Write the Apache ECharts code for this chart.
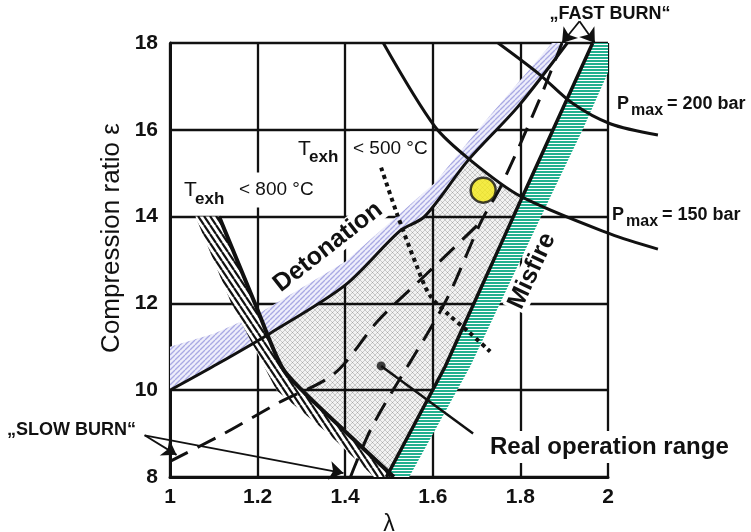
<!DOCTYPE html>
<html>
<head>
<meta charset="utf-8">
<script src="https://cdn.jsdelivr.net/npm/echarts@6.0.0/dist/echarts.min.js"></script>
<style>
html,body{margin:0;padding:0;background:#ffffff;}
#chart{width:751px;height:532px;}
</style>
</head>
<body>
<div id="chart"></div>
<script>
// ---------- data (lambda, compression ratio) ----------
const xTicks = [1, 1.2, 1.4, 1.6, 1.8, 2];
const xTickLabels = ['1', '1.2', '1.4', '1.6', '1.8', '2'];
const yTicks = [8, 10, 12, 14, 16, 18];
const yTickLabels = ['8', '10', '12', '14', '16', '18'];

const detonationLine = [[1.0,10.0],[1.097,10.54],[1.23,11.32],[1.4,12.42],[1.525,13.67],[1.581,14.0],[1.68,15.29],[1.795,16.54],[1.907,18.0]];
const detonationBandTop = [[1.0,11.0],[1.1,11.3],[1.2,11.75],[1.4,12.96],[1.605,14.78],[1.703,16.0],[1.872,18.0]];
const misfireLine = [[1.494,8.0],[1.628,10.54],[1.784,14.0],[1.965,18.0]];
const misfireBandEdge = [[1.546,8.0],[1.685,10.54],[1.865,14.38],[1.942,16.0],[2.03,18.0]];
const texh800Line = [[1.112,14.0],[1.194,12.0],[1.255,10.54],[1.301,10.0],[1.4,9.05],[1.511,8.0]];
const texh800BandEdge = [[1.058,14.0],[1.14,12.0],[1.243,10.0],[1.361,9.0],[1.466,8.0]];
const texh500Line = [[1.482,15.13],[1.518,14.07],[1.565,12.82],[1.593,12.19],[1.634,11.76],[1.68,11.36],[1.731,10.89]];
const pmax150Line = [[1.487,18.0],[1.605,16.07],[1.687,15.29],[1.8,14.47],[2.005,13.6],[2.114,13.25]];
const pmax200Line = [[1.749,18.0],[1.842,17.29],[1.919,16.61],[2.005,16.14],[2.114,15.88]];
const slowBurnDetonation = [[1.0,8.36],[1.123,9.0],[1.246,9.7],[1.375,10.38],[1.475,11.6],[1.584,12.66],[1.71,13.88]];
const slowBurnMisfire = [[1.412,8.0],[1.464,9.21],[1.628,12.02],[1.71,13.88],[1.756,14.71],[1.842,16.66],[1.895,18.0]];
const realRange = [[1.223,11.27],[1.4,12.42],[1.525,13.67],[1.581,14.0],[1.68,15.29],[1.8,14.47],[1.784,14.0],[1.628,10.54],[1.499,8.1],[1.4,9.05],[1.301,10.0],[1.255,10.54]];
const designPoint = [[1.715,14.61]];
const rangeMarker = [[1.482,10.56]];
const rangePointer = [[1.482,10.56],[1.692,9.0]];
const fastBurnArrows = [[[1.935,18.5],[1.895,18.0]],[[1.935,18.5],[1.97,18.0]]];
const slowBurnArrows = [[[0.942,8.96],[1.015,8.51]],[[0.942,8.96],[1.396,8.09]]];

// ---------- patterns ----------
function makePattern(w, h, draw) {
  const c = document.createElement('canvas');
  c.width = w; c.height = h;
  const g = c.getContext('2d');
  draw(g, w, h);
  return { image: c, repeat: 'repeat' };
}
const lavPat = makePattern(5, 5, (g, w, h) => {
  g.fillStyle = '#eeeefb'; g.fillRect(0, 0, w, h);
  g.strokeStyle = '#a9a9e3'; g.lineWidth = 1.3;
  for (const dx of [-w, 0, w]) { g.beginPath(); g.moveTo(dx, h); g.lineTo(dx + w, 0); g.stroke(); }
});
const tealPat = makePattern(4, 3, (g, w, h) => {
  g.fillStyle = '#ffffff'; g.fillRect(0, 0, w, h);
  g.fillStyle = '#22b08f'; g.fillRect(0, 0, w, 2);
});
const hatchPat = makePattern(6, 9, (g, w, h) => {
  g.fillStyle = '#ffffff'; g.fillRect(0, 0, w, h);
  g.strokeStyle = '#111111'; g.lineWidth = 2.2;
  for (const dx of [-w, 0, w]) { g.beginPath(); g.moveTo(dx, 0); g.lineTo(dx + w, h); g.stroke(); }
});
const crossPat = makePattern(5, 5, (g, w, h) => {
  g.fillStyle = 'rgba(0,0,0,0.05)'; g.fillRect(0, 0, w, h);
  g.strokeStyle = 'rgba(0,0,0,0.22)'; g.lineWidth = 0.8;
  for (const dx of [-w, 0, w]) {
    g.beginPath(); g.moveTo(dx, 0); g.lineTo(dx + w, h); g.stroke();
    g.beginPath(); g.moveTo(dx, h); g.lineTo(dx + w, 0); g.stroke();
  }
});

const polys = [
  { pts: realRange, fill: crossPat },
  { pts: detonationLine.concat(detonationBandTop.slice().reverse()), fill: lavPat },
  { pts: misfireLine.concat(misfireBandEdge.slice().reverse()), fill: tealPat },
  { pts: texh800Line.concat(texh800BandEdge.slice().reverse()), fill: hatchPat }
];

const FONT = '"Liberation Sans", Arial, sans-serif';
const INK = '#111111';

function lineSeries(data, width, extra) {
  return Object.assign({
    type: 'line', data: data, symbol: 'none', smooth: 0.3, clip: true,
    lineStyle: { color: INK, width: width, cap: 'butt' }, silent: true, z: 3
  }, extra || {});
}

// curve drawn through the cartesian coordinate system, allowed to run past the plot edge
function freeCurve(data, width) {
  return {
    type: 'custom', clip: false, silent: true, z: 4,
    data: [[data[0][0], data[0][1]]],
    renderItem: (params, api) => ({
      type: 'polyline',
      shape: { points: data.map(d => api.coord(d)), smooth: 0.3 },
      style: { stroke: INK, lineWidth: width, fill: null }
    })
  };
}

function txt(x, y, text, font, opts) {
  opts = opts || {};
  return {
    type: 'text', x: x, y: y, rotation: (opts.rot || 0) * Math.PI / 180, z: 100,
    style: Object.assign({
      text: text, font: font, fill: INK,
      align: opts.align || 'left', verticalAlign: 'middle'
    }, opts.bg ? { backgroundColor: '#ffffff', padding: opts.pad || [2, 3, 2, 3] } : {})
  };
}

const option = {
  animation: false,
  backgroundColor: '#ffffff',
  grid: { left: 170, right: 143, top: 43, bottom: 55, containLabel: false, outerBoundsMode: 'none' },
  xAxis: {
    type: 'value', min: 1, max: 2, interval: 0.2,
    name: 'λ', nameLocation: 'middle', nameGap: 30,
    nameTextStyle: { fontSize: 23, fontFamily: FONT, color: INK },
    axisLine: { show: true, lineStyle: { color: INK, width: 3 } },
    axisTick: { show: false },
    axisLabel: {
      margin: 10, fontSize: 21, fontWeight: 'bold', fontFamily: FONT, color: INK,
      formatter: v => { const i = xTicks.findIndex(t => Math.abs(t - v) < 1e-6); return i >= 0 ? xTickLabels[i] : ''; }
    },
    splitLine: { show: true, lineStyle: { color: INK, width: 2.3 } }
  },
  yAxis: {
    type: 'value', min: 8, max: 18, interval: 2,
    axisLine: { show: true, lineStyle: { color: INK, width: 3 } },
    axisTick: { show: false },
    axisLabel: {
      margin: 12, fontSize: 21, fontWeight: 'bold', fontFamily: FONT, color: INK,
      formatter: v => { const i = yTicks.findIndex(t => Math.abs(t - v) < 1e-6); return i >= 0 ? yTickLabels[i] : ''; }
    },
    splitLine: { show: true, lineStyle: { color: INK, width: 2.3 } }
  },
  series: [
    {
      type: 'custom', clip: true, silent: true, z: 2,
      data: polys.map((p, i) => [i]),
      encode: { x: 0 },
      renderItem: (params, api) => {
        const p = polys[params.dataIndex];
        return { type: 'polygon', shape: { points: p.pts.map(d => api.coord(d)) }, style: { fill: p.fill, stroke: null } };
      }
    },
    lineSeries(detonationLine, 3),
    lineSeries(misfireLine, 3.5, { smooth: false }),
    lineSeries(texh800Line, 4),
    lineSeries(texh500Line, 4, { lineStyle: { color: INK, width: 4, type: [4, 4], cap: 'butt' } }),
    lineSeries(slowBurnDetonation, 3, { lineStyle: { color: INK, width: 3, type: [20, 11], cap: 'butt' } }),
    lineSeries(slowBurnMisfire, 3, { lineStyle: { color: INK, width: 3, type: [20, 11], cap: 'butt' } }),
    freeCurve(pmax150Line, 3),
    freeCurve(pmax200Line, 3),
    lineSeries(rangePointer, 2.5, { smooth: false }),
    { type: 'scatter', data: rangeMarker, symbolSize: 9, itemStyle: { color: INK }, silent: true, z: 5 },
    { type: 'scatter', data: designPoint, symbolSize: 25, itemStyle: { color: '#f4e918', borderColor: INK, borderWidth: 2.5 }, silent: true, z: 5 },
    {
      type: 'lines', coordinateSystem: 'cartesian2d', clip: false, silent: true, z: 6,
      symbol: ['none', 'arrow'], symbolSize: 14,
      lineStyle: { color: INK, width: 1.8, opacity: 1 },
      data: fastBurnArrows.concat(slowBurnArrows).map(c => ({ coords: c }))
    }
  ],
  graphic: { elements: [
    txt(112, 238, 'Compression ratio ε', '26px ' + FONT, { align: 'center', rot: 90 }),
    txt(328, 247, 'Detonation', 'bold 25px ' + FONT, { align: 'center', rot: 38, bg: true, pad: [0, 2, 0, 2] }),
    txt(532, 271, 'Misfire', 'bold 25px ' + FONT, { align: 'center', rot: 65, bg: true, pad: [0, 2, 0, 2] }),
    txt(487, 447, 'Real operation range', 'bold 24px ' + FONT, { bg: true, pad: [4, 3, 4, 3] }),
    txt(184, 190, 'T', '21px ' + FONT),
    txt(195, 199, 'exh', 'bold 17px ' + FONT),
    txt(236, 190, '< 800 °C', '19px ' + FONT, { bg: true, pad: [8, 3, 8, 3] }),
    txt(298, 149, 'T', '21px ' + FONT),
    txt(309, 157, 'exh', 'bold 17px ' + FONT),
    txt(350, 149, '< 500 °C', '19px ' + FONT, { bg: true, pad: [8, 3, 8, 3] }),
    txt(617, 104, 'P', 'bold 18px ' + FONT),
    txt(631, 111, 'max', 'bold 16px ' + FONT),
    txt(667, 104, '= 200 bar', 'bold 18px ' + FONT),
    txt(612, 215, 'P', 'bold 18px ' + FONT),
    txt(626, 222, 'max', 'bold 16px ' + FONT),
    txt(662, 215, '= 150 bar', 'bold 18px ' + FONT),
    txt(610, 14, '„FAST BURN“', 'bold 18px ' + FONT, { align: 'center' }),
    txt(7, 430, '„SLOW BURN“', 'bold 18px ' + FONT)
  ] }
};

const chart = echarts.init(document.getElementById('chart'), null, { renderer: 'canvas' });
chart.setOption(option);
</script>
</body>
</html>
